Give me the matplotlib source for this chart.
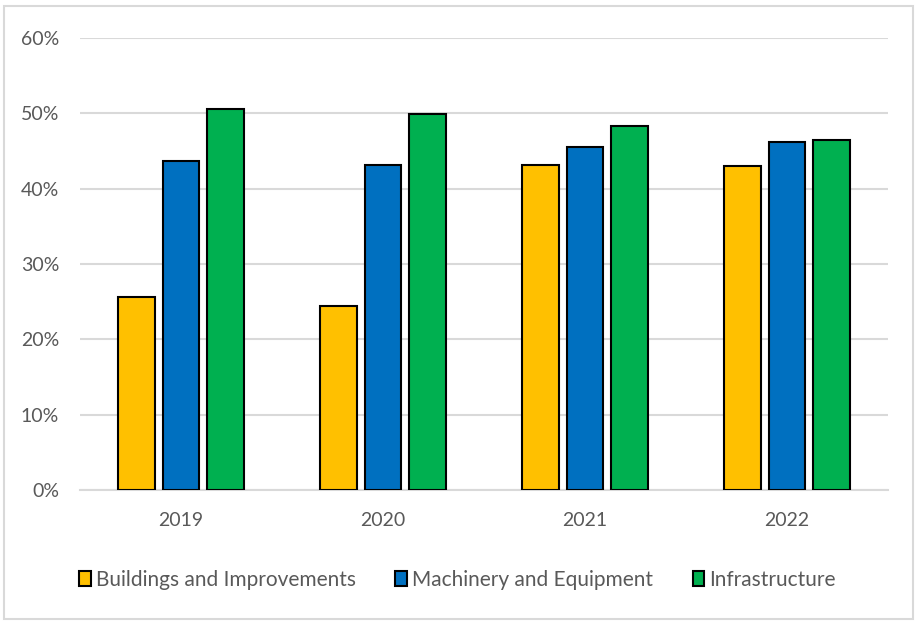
import numpy as np
import matplotlib.pyplot as plt
from matplotlib.patches import Rectangle
from matplotlib.ticker import PercentFormatter

plt.rcParams['font.family'] = ['Lato', 'DejaVu Sans']

years = ["2019", "2020", "2021", "2022"]
buildings = [25.6, 24.4, 43.1, 43.0]
machinery = [43.7, 43.1, 45.5, 46.2]
infrastructure = [50.6, 49.9, 48.3, 46.4]

series = [
    ("Buildings and Improvements", buildings, "#FFC000"),
    ("Machinery and Equipment", machinery, "#0070C0"),
    ("Infrastructure", infrastructure, "#00B050"),
]

fig = plt.figure(figsize=(9.15, 6.21), dpi=100)
ax = fig.add_axes([0.0874, 0.211, 0.883, 0.728])

x = np.arange(len(years))
offsets = [-0.22, 0.0, 0.22]
for (name, vals, col), off in zip(series, offsets):
    ax.bar(x + off, vals, width=0.18, color=col, edgecolor="black",
           linewidth=1.5, label=name, zorder=3)

ax.set_xlim(-0.5, 3.5)
ax.set_ylim(0, 60)
ax.set_yticks(np.arange(0, 61, 10))
ax.yaxis.set_major_formatter(PercentFormatter(decimals=0))
ax.set_xticks(x)
ax.set_xticklabels(years)
ax.grid(axis="y", color="#d9d9d9", linewidth=1.5, zorder=0)
for s in ["top", "right", "left"]:
    ax.spines[s].set_visible(False)
ax.spines["bottom"].set_color("#d9d9d9")
ax.spines["bottom"].set_linewidth(1.5)
ax.tick_params(axis="both", length=0, labelsize=14, colors="#595959")
ax.tick_params(axis="y", pad=15)
ax.tick_params(axis="x", pad=16)

fig.legend(loc="center", bbox_to_anchor=(0.5, 0.066), ncol=3, frameon=False,
           fontsize=15, handlelength=0.55, handleheight=0.7, handletextpad=0.25,
           columnspacing=1.9, labelcolor="#595959")

fig.patches.append(Rectangle((0.004, 0.003), 0.994, 0.988, transform=fig.transFigure,
                             fill=False, edgecolor="#d9d9d9", linewidth=1.5))

fig.savefig("out.png", dpi=100)
